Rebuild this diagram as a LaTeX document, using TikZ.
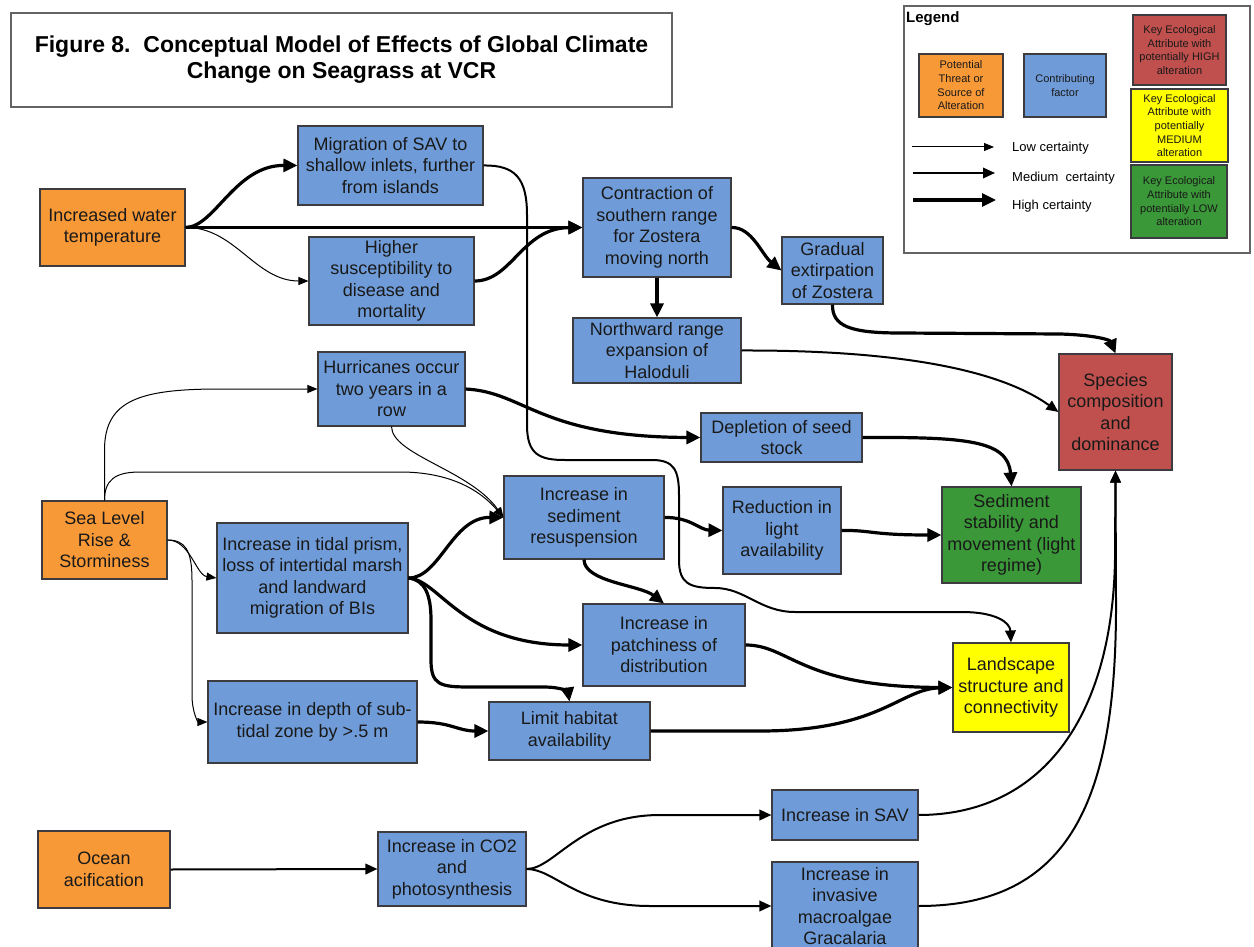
\documentclass[tikz,border=0pt]{standalone}
\usepackage{fontspec}
\setmainfont{Liberation Sans}
\usetikzlibrary{arrows.meta}

\definecolor{cOrange}{RGB}{248,153,56}
\definecolor{cBlue}{RGB}{111,156,216}
\definecolor{cRed}{RGB}{192,80,77}
\definecolor{cYellow}{RGB}{255,255,0}
\definecolor{cGreen}{RGB}{58,152,56}
\definecolor{cEdge}{RGB}{60,60,64}
\definecolor{cFrame}{RGB}{100,100,100}

\tikzset{
  box/.style={draw=cEdge, line width=1.1pt, inner sep=0pt, align=center,
    text=black!90, font=\fontsize{18}{21.5}\selectfont},
  threat/.style={box, fill=cOrange},
  factor/.style={box, fill=cBlue},
  keyhigh/.style={box, fill=cRed},
  keymed/.style={box, fill=cYellow},
  keylow/.style={box, fill=cGreen},
  smallkey/.style={font=\fontsize{11}{13.7}\selectfont},
  lowc/.style={line width=1pt, -{Triangle[length=10pt,width=8pt]}},
  medc/.style={line width=2pt, -{Triangle[length=12pt,width=10.5pt]}},
  highc/.style={line width=3.2pt, -{Triangle[length=14pt,width=13pt]}},
}

\begin{document}
\begin{tikzpicture}[x=1pt,y=-1pt]
\useasboundingbox (0,0) rectangle (1254,947);
\clip (0,0) rectangle (1254,947);

% Title
\node[draw=cFrame, line width=1.1pt, minimum width=661pt, minimum height=94pt,
      inner sep=0pt, align=center, font=\bfseries\fontsize{23}{26}\selectfont]
  (title) at (341.5,60) {Figure 8.\ \ Conceptual Model of Effects of Global Climate\\Change on Seagrass at VCR};

% Legend
\node[draw=cFrame, line width=1.1pt, minimum width=346pt, minimum height=247pt, inner sep=0pt]
  (legend) at (1077,129.5) {};
\node[anchor=west, inner sep=0pt, font=\bfseries\fontsize{15}{18}\selectfont] (legtitle) at (906,19) {Legend};
\node[threat, smallkey, minimum width=84pt, minimum height=63pt] (lgo) at (961,85.5)
  {Potential\\Threat or\\Source of\\Alteration};
\node[factor, smallkey, minimum width=82pt, minimum height=63pt] (lgb) at (1065,85.5)
  {Contributing\\factor};
\node[keyhigh, smallkey, minimum width=93pt, minimum height=70pt] (lgr) at (1179.5,50)
  {Key Ecological\\Attribute with\\potentially HIGH\\alteration};
\node[keymed, smallkey, minimum width=97pt, minimum height=73pt] (lgy) at (1179.5,125.5)
  {Key Ecological\\Attribute with\\potentially\\MEDIUM\\alteration};
\node[keylow, smallkey, minimum width=96pt, minimum height=73pt] (lgg) at (1179,201.5)
  {Key Ecological\\Attribute with\\potentially LOW\\alteration};
\coordinate (l1a) at (912,147);  \coordinate (l1b) at (994,147);
\coordinate (l2a) at (913,173);  \coordinate (l2b) at (995,173);
\coordinate (l3a) at (913,200);  \coordinate (l3b) at (996,200);
\draw[lowc] (l1a) -- (l1b);
\draw[medc] (l2a) -- (l2b);
\draw[highc] (l3a) -- (l3b);
\begin{scope}[every node/.style={anchor=west, inner sep=0pt, font=\fontsize{13}{15}\selectfont}]
  \node (llow) at (1012,148) {Low certainty};
  \node (lmed) at (1012,178) {Medium\ \ certainty};
  \node (lhigh) at (1012,206) {High certainty};
\end{scope}

% Stressors
\node[threat, minimum width=145pt, minimum height=77pt] (wt) at (112.5,227.5) {Increased water\\temperature};
\node[threat, minimum width=125pt, minimum height=78pt] (slr) at (104.5,540) {Sea Level\\Rise \&\\Storminess};
\node[threat, minimum width=132pt, minimum height=77pt] (oce) at (104,869.5) {Ocean\\acification};

% Contributing factors
\node[factor, minimum width=185pt, minimum height=79pt] (mig) at (390.5,165.5) {Migration of SAV to\\shallow inlets, further\\from islands};
\node[factor, minimum width=165pt, minimum height=88pt] (sus) at (391.5,281) {Higher\\susceptibility to\\disease and\\mortality};
\node[factor, minimum width=148pt, minimum height=99pt] (con) at (657,227.5) {Contraction of\\southern range\\for Zostera\\moving north};
\node[factor, minimum width=168pt, minimum height=65pt] (nor) at (657,350.5) {Northward range\\expansion of\\Haloduli};
\node[factor, minimum width=101pt, minimum height=67pt] (gra) at (832.5,270.5) {Gradual\\extirpation\\of Zostera};
\node[factor, minimum width=147pt, minimum height=74pt] (hur) at (391.5,389) {Hurricanes occur\\two years in a\\row};
\node[factor, minimum width=161pt, minimum height=49pt] (dep) at (781.5,437.5) {Depletion of seed\\stock};
\node[factor, minimum width=191pt, minimum height=110pt] (tid) at (312.5,578) {Increase in tidal prism,\\loss of intertidal marsh\\and landward\\migration of BIs};
\node[factor, minimum width=160pt, minimum height=83pt] (sed) at (584,517.5) {Increase in\\sediment\\resuspension};
\node[factor, minimum width=118pt, minimum height=87pt] (red) at (782,530.5) {Reduction in\\light\\availability};
\node[factor, minimum width=162pt, minimum height=82pt] (pat) at (664,645) {Increase in\\patchiness of\\distribution};
\node[factor, minimum width=209pt, minimum height=82pt] (dpt) at (312.5,722) {Increase in depth of sub-\\tidal zone by >.5 m};
\node[factor, minimum width=161pt, minimum height=58pt] (lim) at (569.5,731) {Limit habitat\\availability};
\node[factor, minimum width=148pt, minimum height=74pt] (co2) at (452,869) {Increase in CO2\\and\\photosynthesis};
\node[factor, minimum width=146pt, minimum height=50pt] (sav) at (845,815) {Increase in SAV};
\node[factor, minimum width=146pt, minimum height=88pt] (inv) at (845,906) {Increase in\\invasive\\macroalgae\\Gracalaria};

% Key ecological attributes
\node[keyhigh, minimum width=113pt, minimum height=116pt] (spe) at (1115.5,412) {Species\\composition\\and\\dominance};
\node[keylow, minimum width=139pt, minimum height=96pt] (grn) at (1011.5,535) {Sediment\\stability and\\movement (light\\regime)};
\node[keymed, minimum width=116pt, minimum height=89pt] (lan) at (1011,687.5) {Landscape\\structure and\\connectivity};

% Water temperature pathway
\draw[highc] (wt.east) .. controls (215,227) and (235,165) .. (mig.west);
\draw[highc] (wt.east) -- (con.west);
\draw[lowc] (wt.east) .. controls (235,227) and (255,281) .. (sus.west);
\draw[highc] (sus.east) .. controls (512,281) and (522,228) .. (con.west);
\draw[medc] (mig.east) .. controls (515,165) and (527,178) .. (527,215) -- (527,425)
  .. controls (527,455) and (540,460) .. (565,460) -- (652,460)
  .. controls (674,460) and (679,470) .. (679,495) -- (679,560)
  .. controls (679,584) and (690,588) .. (715,588)
  .. controls (745,588) and (760,612) .. (795,612) -- (962,612)
  .. controls (995,612) and (1010,622) .. (lan.north);
\draw[highc] (con.east) .. controls (752,227) and (762,255) .. (gra.west);
\draw[highc] (con.south) -- (nor.north);
\draw[highc] (gra.south) .. controls (832,326) and (850,333) .. (900,333) -- (1060,334)
  .. controls (1095,335) and (1110,340) .. (spe.north);
\draw[medc] (nor.east) .. controls (900,350) and (1000,370) .. (spe.west);

% Sea level and storm pathway
\draw[lowc] (slr.north) -- (104.5,450) .. controls (104.5,400) and (140,389) .. (220,389) -- (hur.west);
\draw[lowc] (slr.north) .. controls (104.5,480) and (115,472) .. (140,472) -- (400,472)
  .. controls (450,472) and (480,490) .. (sed.west);
\draw[lowc] (hur.south) .. controls (392,455) and (470,470) .. (sed.west);
\draw[highc] (hur.east) .. controls (525,392) and (540,437) .. (dep.west);
\draw[lowc] (slr.east) .. controls (190,540) and (196,575) .. (tid.west);
\draw[lowc] (slr.east) .. controls (185,540) and (192,550) .. (192,580) -- (192,695)
  .. controls (192,712) and (198,722) .. (dpt.west);
\draw[highc] (tid.east) .. controls (440,578) and (452,517) .. (sed.west);
\draw[highc] (tid.east) .. controls (440,580) and (462,645) .. (pat.west);
\draw[highc] (tid.east) .. controls (425,580) and (431,595) .. (431,620) -- (431,660)
  .. controls (431,685) and (440,687) .. (470,687) -- (545,687)
  .. controls (560,687) and (568,692) .. (lim.north);
\draw[highc] (sed.east) .. controls (690,517) and (700,530) .. (red.west);
\draw[highc] (sed.south) .. controls (584,582) and (640,585) .. (pat.north);
\draw[highc] (red.east) .. controls (872,530) and (870,535) .. (grn.west);
\draw[highc] (dep.east) .. controls (965,437) and (1008,440) .. (grn.north);
\draw[highc] (dpt.east) .. controls (452,722) and (457,731) .. (lim.west);
\draw[highc] (pat.east) .. controls (790,645) and (800,687) .. (lan.west);
\draw[highc] (lim.east) -- (760,731) .. controls (880,731) and (900,689) .. (lan.west);

% Ocean acidification pathway
\draw[medc] (oce.east) -- (co2.west);
\draw[medc] (co2.east) .. controls (555,869) and (580,815) .. (660,815) -- (sav.west);
\draw[medc] (co2.east) .. controls (555,869) and (575,906) .. (650,906) -- (inv.west);
\draw[medc] (sav.east) .. controls (1040,815) and (1112,720) .. (1115,560) -- (spe.south);
\draw[medc] (inv.east) .. controls (1070,906) and (1117,800) .. (1116,600) -- (spe.south);
\end{tikzpicture}
\end{document}
